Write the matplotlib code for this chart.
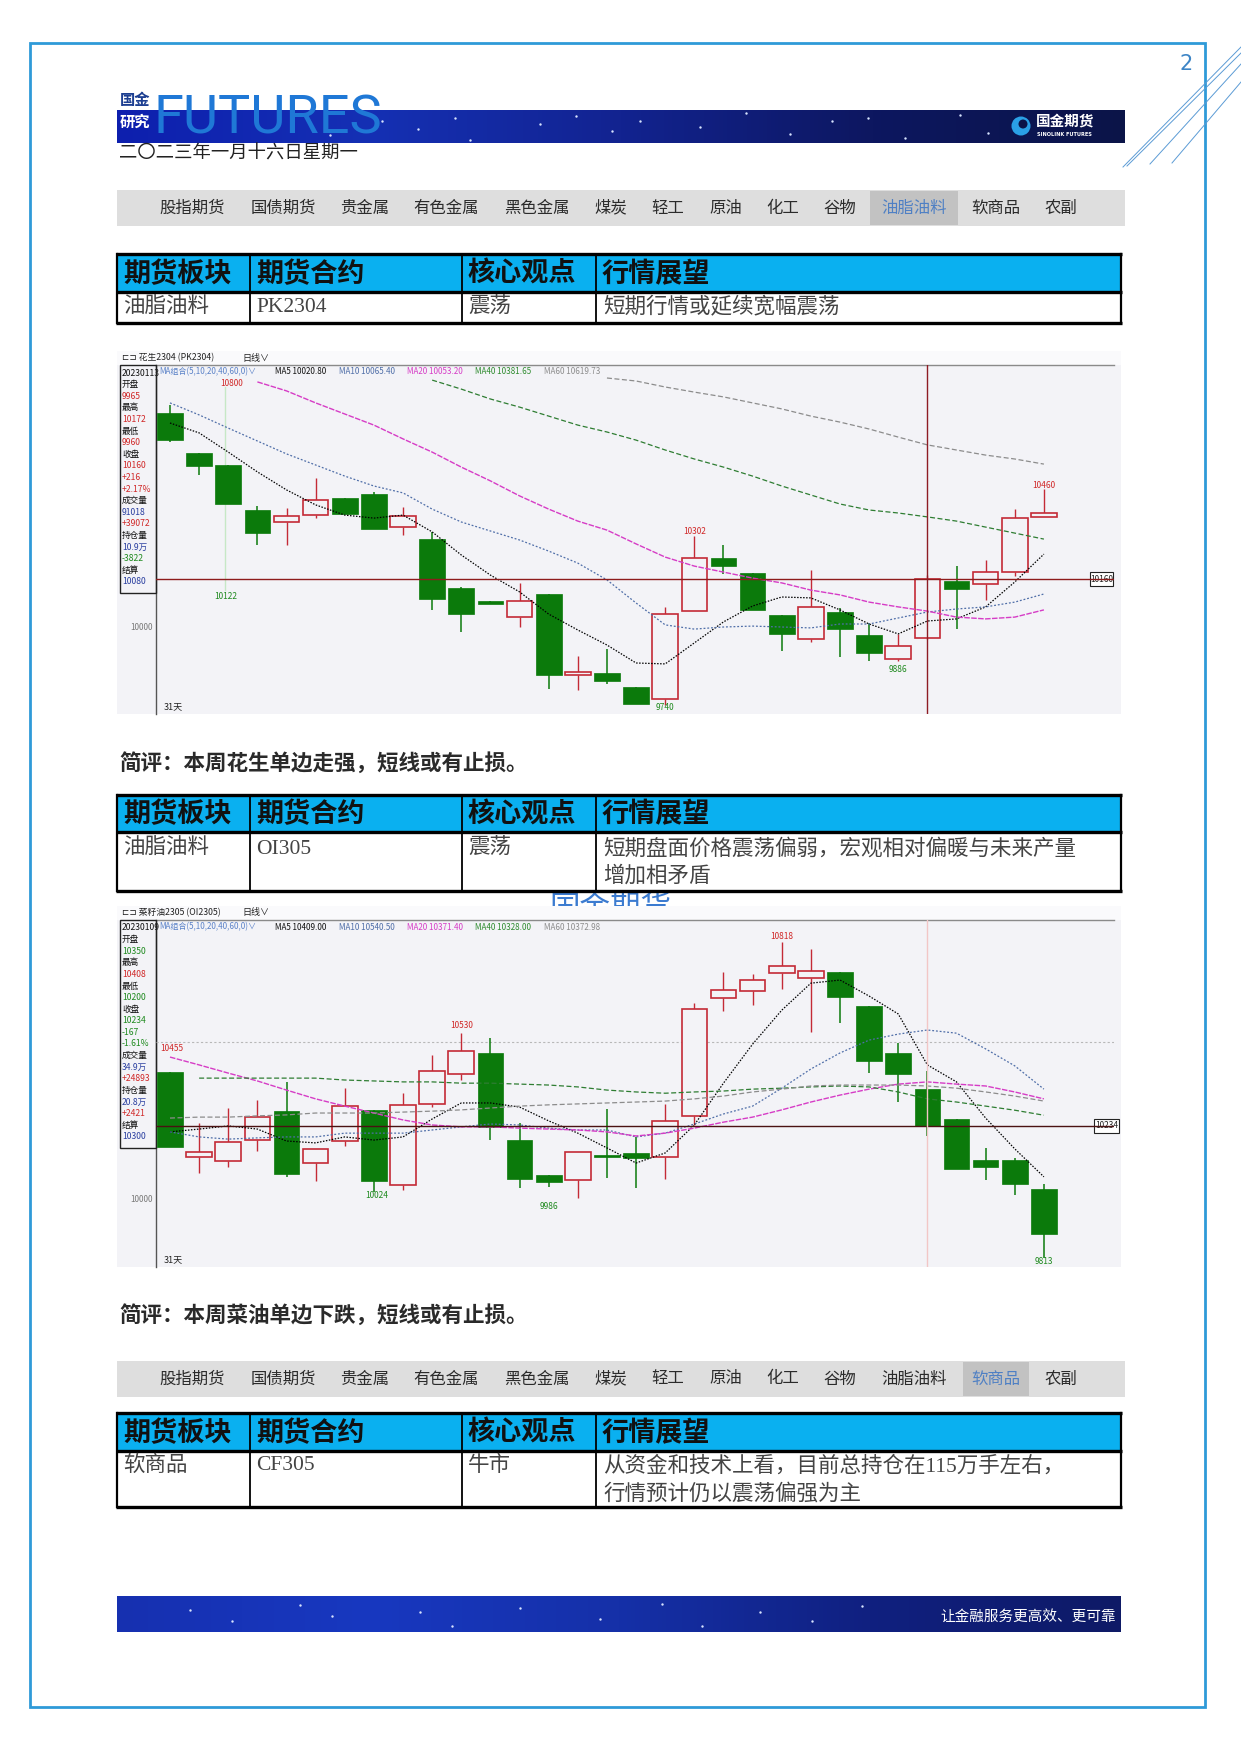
import numpy as np
import matplotlib
matplotlib.use("Agg")
import matplotlib.pyplot as plt
from matplotlib.patches import Rectangle, Circle
from matplotlib.colors import LinearSegmentedColormap
from matplotlib.transforms import Bbox, TransformedBbox

plt.rcParams['font.family'] = ['Noto Sans CJK SC', 'DejaVu Sans']

W, H = 1241, 1754

# ---------------- data: peanut PK2304 daily ----------------
pk_open = [10713, 10580, 10540, 10390, 10350, 10373, 10430, 10443, 10333, 10293,
           10130, 10087, 10033, 10110, 9840, 9847, 9800, 9760, 10053, 10230,
           10180, 10040, 9960, 10050, 9973, 9893, 9965, 10153, 10143, 10183, 10367]
pk_high = [10740, 10580, 10540, 10403, 10397, 10497, 10430, 10450, 10400, 10317,
           10133, 10087, 10148, 10110, 9903, 9927, 9800, 10067, 10302, 10273,
           10180, 10040, 10190, 10063, 10013, 9977, 10172, 10203, 10223, 10393, 10460]
pk_low = [10617, 10507, 10410, 10273, 10273, 10363, 10377, 10327, 10307, 10057,
          9983, 10077, 10000, 9793, 9790, 9810, 9745, 9740, 10053, 10177,
          10057, 9920, 9950, 9900, 9887, 9886, 9960, 9993, 10090, 10170, 10367]
pk_close = [10623, 10537, 10410, 10313, 10370, 10423, 10377, 10327, 10370, 10093,
            10043, 10077, 10087, 9840, 9850, 9820, 9745, 10043, 10230, 10203,
            10057, 9977, 10067, 9993, 9913, 9937, 10160, 10127, 10183, 10363, 10380]
pk_ma5 = [10680, 10647, 10583, 10517, 10457, 10407, 10373, 10363, 10373, 10317,
          10240, 10173, 10117, 10043, 9990, 9940, 9880, 9877, 9947, 10017,
          10070, 10100, 10097, 10057, 10010, 9977, 10020, 10027, 10067, 10150, 10243]
pk_ma10 = [10747, 10707, 10663, 10620, 10577, 10540, 10503, 10470, 10447, 10393,
           10350, 10320, 10290, 10253, 10213, 10157, 10080, 10007, 9993, 10000,
           10003, 10000, 9997, 10010, 10010, 10030, 10050, 10060, 10067, 10083, 10110]
pk_ma20 = [10817, 10787, 10747, 10710, 10673, 10627, 10583, 10533, 10487, 10437,
           10393, 10353, 10323, 10277, 10233, 10203, 10183, 10163, 10147, 10123,
           10107, 10083, 10067, 10053, 10033, 10027, 10033, 10057]        # from day 4
pk_ma40 = [10823, 10793, 10760, 10733, 10703, 10673, 10650, 10623, 10590, 10560,
           10533, 10503, 10470, 10440, 10410, 10390, 10380, 10367, 10353, 10333,
           10313, 10293]                                                  # from day 10
pk_ma60 = [10830, 10820, 10800, 10783, 10767, 10747, 10727, 10703, 10683, 10660,
           10633, 10607, 10590, 10573, 10560, 10543]                      # from day 16

# ---------------- data: rapeseed oil OI2305 daily ----------------
oi_open = [10404, 10134, 10121, 10188, 10280, 10115, 10185, 10284, 10045, 10303,
           10398, 10465, 10188, 10077, 10060, 10140, 10146, 10134, 10265, 10640,
           10662, 10719, 10704, 10722, 10614, 10465, 10350, 10255, 10124, 10124, 10032]
oi_high = [10404, 10242, 10290, 10315, 10373, 10160, 10353, 10284, 10337, 10459,
           10530, 10512, 10242, 10077, 10150, 10286, 10197, 10302, 10624, 10722,
           10716, 10818, 10796, 10722, 10614, 10497, 10408, 10255, 10162, 10130, 10048]
oi_low = [10166, 10083, 10102, 10153, 10070, 10058, 10169, 10024, 10030, 10293,
          10379, 10188, 10035, 10040, 10005, 10066, 10035, 10064, 10235, 10598,
          10618, 10668, 10531, 10560, 10401, 10309, 10200, 10095, 10061, 10013, 9813]
oi_close = [10166, 10150, 10182, 10261, 10080, 10160, 10296, 10058, 10300, 10408,
            10471, 10230, 10064, 10055, 10150, 10133, 10130, 10248, 10604, 10665,
            10697, 10741, 10726, 10643, 10439, 10398, 10234, 10095, 10102, 10048, 9890]
oi_ma5 = [10214, 10223, 10233, 10223, 10185, 10179, 10198, 10188, 10198, 10255,
          10306, 10306, 10293, 10249, 10210, 10163, 10115, 10147, 10236, 10369,
          10493, 10601, 10687, 10697, 10646, 10589, 10427, 10373, 10258, 10160, 10071]
oi_ma10 = [10214, 10198, 10191, 10195, 10198, 10198, 10210, 10210, 10210, 10220,
           10230, 10239, 10236, 10226, 10220, 10220, 10198, 10210, 10239, 10271,
           10296, 10353, 10414, 10465, 10506, 10525, 10538, 10528, 10478, 10424, 10350]
oi_ma20 = [10452, 10427, 10401, 10376, 10347, 10319, 10296, 10274, 10252, 10236,
           10230, 10230, 10226, 10223, 10220, 10214, 10201, 10210, 10226, 10245,
           10261, 10284, 10309, 10331, 10350, 10366, 10373, 10366, 10360, 10341, 10319]
oi_ma40 = [10385, 10385, 10385, 10385, 10385, 10379, 10376, 10373, 10373, 10369,
           10369, 10366, 10363, 10357, 10347, 10341, 10337, 10341, 10344, 10350,
           10353, 10357, 10360, 10357, 10341, 10319, 10309, 10296, 10283, 10267]  # from day 2
oi_ma60 = [10258, 10261, 10261, 10265, 10268, 10274, 10274, 10274, 10277, 10280,
           10284, 10290, 10296, 10300, 10303, 10306, 10309, 10312, 10319, 10328,
           10341, 10350, 10360, 10363, 10363, 10363, 10360, 10353, 10341, 10328, 10312]

pk_info = [("20230113", "k"), ("开盘", "k"), ("9965", "r"), ("最高", "k"), ("10172", "r"),
           ("最低", "k"), ("9960", "r"), ("收盘", "k"), ("10160", "r"), ("+216", "r"),
           ("+2.17%", "r"), ("成交量", "k"), ("91018", "b"), ("+39072", "r"), ("持仓量", "k"),
           ("10.9万", "b"), ("-3822", "g"), ("结算", "k"), ("10080", "b")]
oi_info = [("20230109", "k"), ("开盘", "k"), ("10350", "g"), ("最高", "k"), ("10408", "r"),
           ("最低", "k"), ("10200", "g"), ("收盘", "k"), ("10234", "g"), ("-167", "g"),
           ("-1.61%", "g"), ("成交量", "k"), ("34.9万", "b"), ("+24893", "r"), ("持仓量", "k"),
           ("20.8万", "b"), ("+2421", "r"), ("结算", "k"), ("10300", "b")]

pk_legend = ["MA5 10020.80", "MA10 10065.40", "MA20 10053.20", "MA40 10381.65", "MA60 10619.73"]
oi_legend = ["MA5 10409.00", "MA10 10540.50", "MA20 10371.40", "MA40 10328.00", "MA60 10372.98"]

# (day index, price position, text, colour)
pk_marks = [(2.1, 10813, "10800", "r"), (1.9, 10103, "10122", "g"), (18.0, 10317, "10302", "r"),
            (17.0, 9733, "9740", "g"), (25.0, 9860, "9886", "g"), (30.0, 10473, "10460", "r")]
oi_marks = [(10.0, 10551, "10530", "r"), (7.1, 10013, "10024", "g"), (13.0, 9978, "9986", "g"),
            (21.0, 10837, "10818", "r"), (30.0, 9803, "9813", "g")]

nav_items = ["股指期货", "国债期货", "贵金属", "有色金属", "黑色金属", "煤炭", "轻工",
             "原油", "化工", "谷物", "油脂油料", "软商品", "农副"]

table_head = ["期货板块", "期货合约", "核心观点", "行情展望"]
table1_row = ["油脂油料", "PK2304", "震荡", ["短期行情或延续宽幅震荡"]]
table2_row = ["油脂油料", "OI305", "震荡", ["短期盘面价格震荡偏弱，宏观相对偏暖与未来产量", "增加相矛盾"]]
table3_row = ["软商品", "CF305", "牛市", ["从资金和技术上看，目前总持仓在115万手左右，", "行情预计仍以震荡偏强为主"]]

# ---------------- styling ----------------
GREEN = "#0b7a0b"
RED = "#c42a36"
CBG = "#f3f3f7"
TXT = {"k": "#111111", "r": "#d02828", "g": "#1f8a1f", "b": "#2a3fa0"}
MA_STYLE = [("#000000", (0, (1.2, 1.2)), 0.9),
            ("#4f6ea8", (0, (1.5, 1.5)), 0.9),
            ("#d63cc6", (0, (4, 1)), 1.0),
            ("#2e7d32", (0, (4, 2)), 0.9),
            ("#8c8c8c", (0, (4, 2)), 0.9)]
MA_LEG_COL = ["#111111", "#4f6ea8", "#d63cc6", "#2e8b2e", "#8c8c8c"]

fig = plt.figure(figsize=(12.41, 17.54), dpi=100)
pg = fig.add_axes([0, 0, 1, 1])
pg.set_xlim(0, W)
pg.set_ylim(H, 0)
pg.axis("off")


def gradient(x0, x1, y0, y1, colors):
    cmap = LinearSegmentedColormap.from_list("g", colors)
    pg.imshow(np.linspace(0, 1, 256)[None, :], cmap=cmap, aspect="auto",
              extent=(x0, x1, y1, y0), zorder=1)


# page frame and corner lines
pg.add_patch(Rectangle((30, 43), 1175, 1664, fill=False, ec="#2f9ad8", lw=2.0, zorder=5))
for (xa, ya, xb, yb) in [(1123, 167, 1241, 47), (1127, 166, 1241, 53),
                         (1150, 164, 1241, 64), (1172, 163, 1241, 82)]:
    pg.plot([xa, xb], [ya, yb], color="#5b9bd5", lw=0.7, zorder=5)
pg.text(1186, 64, "2", fontsize=15, color="#3d85c6", ha="center", va="center", family="DejaVu Sans")

# header banner
gradient(117, 1125, 110, 143, ["#0d1fae", "#1530b4", "#122390", "#0d1760", "#0b1448"])
stars_h = [(330, 135), (382, 121), (418, 129), (455, 118), (470, 140), (540, 124), (576, 116),
           (612, 131), (640, 121), (700, 127), (746, 113), (790, 134), (832, 121), (868, 118),
           (905, 138), (960, 115), (988, 133)]
pg.scatter([s[0] for s in stars_h], [s[1] for s in stars_h], s=3, c="#d8e4ff", zorder=2, lw=0)
pg.text(154, 133, "FUTURES", fontsize=39, color="#1f78d6", family="Roboto",
        ha="left", va="baseline", zorder=3)
pg.text(120, 100, "国金", fontsize=11, weight="bold", color="#1d3f91", ha="left", va="center", zorder=3)
pg.text(120, 122, "研究", fontsize=11, weight="bold", color="white", ha="left", va="center", zorder=3)
pg.add_patch(Circle((1021, 126), 9.5, fc="#2aa0e6", ec="none", zorder=3))
pg.add_patch(Circle((1023, 124), 4.5, fc="#0b1448", ec="none", zorder=4))
pg.text(1036, 121, "国金期货", fontsize=10.5, weight="bold", color="white", ha="left", va="center", zorder=3)
pg.text(1037, 135, "SINOLINK FUTURES", fontsize=3.6, weight="bold", color="white",
        ha="left", va="center", zorder=3, family="DejaVu Sans")
pg.text(119, 154, "二〇二三年一月十六日星期一", fontsize=13.2, color="#222222", ha="left", va="center")


def nav_bar(y0, y1, active):
    pg.add_patch(Rectangle((117, y0), 1008, y1 - y0, fc="#dedede", ec="none", zorder=1))
    xs = [192, 283, 365, 446, 537, 611, 668, 726, 783, 840, 914, 996, 1061]
    widths = [0, 0, 0, 0, 0, 0, 0, 0, 0, 0, 88, 66, 0]
    for k, (name, x) in enumerate(zip(nav_items, xs)):
        col = "#2b2b2b"
        if k == active:
            pg.add_patch(Rectangle((x - widths[k] / 2, y0 + 1), widths[k], y1 - y0 - 2,
                                   fc="#c2c2c2", ec="none", zorder=2))
            col = "#4f80c4"
        pg.text(x, (y0 + y1) / 2, name, fontsize=11.8, color=col, ha="center", va="center",
                weight="light", zorder=3)


def table(top, mid, bot, row, line_y):
    cols = [117, 250, 462, 596, 1121]
    pg.add_patch(Rectangle((117, top), 1004, mid - top, fc="#0ab0f0", ec="none", zorder=1))
    pg.add_patch(Rectangle((117, mid), 1004, bot - mid, fc="white", ec="none", zorder=1))
    for y in (top, mid, bot):
        pg.plot([116, 1122], [y, y], color="black", lw=2.4, zorder=4, solid_capstyle="butt")
    for x in cols:
        pg.plot([x, x], [top, bot], color="black", lw=1.6 if x in (117, 1121) else 1.3, zorder=4)
    for k, h in enumerate(table_head):
        pg.text(cols[k] + 6, (top + mid) / 2 + 1, h, fontsize=19.5, weight="bold",
                color="#111111", ha="left", va="center", zorder=5)
    fam = ["Liberation Serif", "Noto Sans CJK SC"]
    for k in range(3):
        pg.text(cols[k] + 6, line_y[0], row[k], fontsize=15.5, color="#444444", family=fam,
                ha="left", va="center", zorder=5)
    for j, ln in enumerate(row[3]):
        pg.text(cols[3] + 7, line_y[j], ln, fontsize=15.5, color="#444444", family=fam,
                ha="left", va="center", zorder=5)


nav_bar(190, 226, 10)
table(254, 292, 323, table1_row, [308])


def chart(box, title, info, legend, o, h, l, c, mas, ma_start, ref_px, ref_price, ppu,
          cross_col, vcross_col, marks, cross_box):
    x0, y0, x1, y1 = box          # whole screenshot
    top = y0 + 14                  # plot frame top
    left, right = 156, 1114
    pg.add_patch(Rectangle((x0, y0), x1 - x0, y1 - y0, fc=CBG, ec="none", zorder=6))
    pg.add_patch(Rectangle((x0, y0), x1 - x0, 14, fc="#fafafc", ec="none", zorder=6))
    pg.plot([left, right], [top, top], color="#8a8a8a", lw=1, zorder=7)
    pg.plot([left, left], [top, y1], color="#555555", lw=1, zorder=7)
    pg.text(x0 + 5, y0 + 7, "⊏⊐ " + title, fontsize=6.3, color="#222222", ha="left", va="center",
            zorder=8, family=["Noto Sans CJK SC", "DejaVu Sans"])
    pg.text(x0 + 125, y0 + 7, "日线∨", fontsize=6.5, color="#222222", ha="left", va="center",
            zorder=8, family=["Noto Sans CJK SC", "DejaVu Sans"])
    # info panel
    for k, (s, cc) in enumerate(info):
        pg.text(x0 + 5, top + 8 + k * 11.6, s, fontsize=6.2, color=TXT[cc], ha="left",
                va="center", zorder=8)
    pg.add_patch(Rectangle((x0 + 3, top), left - x0 - 3, 19 * 11.6 + 8, fill=False,
                           ec="#222222", lw=1, zorder=8))
    pg.text(left + 3, top + 7, "MA组合(5,10,20,40,60,0)∨", fontsize=5.8, color="#5b82c8",
            ha="left", va="center", zorder=8)
    for k, (s, x) in enumerate(zip(legend, [275, 339, 407, 475, 544])):
        pg.text(x, top + 7, s, fontsize=5.8, color=MA_LEG_COL[k], ha="left", va="center", zorder=8)
    pg.text(left + 8, y1 - 7, "31天", fontsize=6.5, color="#222222", ha="left", va="center", zorder=8)

    ax = fig.add_axes([left / W, 1 - y1 / H, (right - left) / W, (y1 - top) / H])
    ax.set_xlim((left - 170) / 29.13, (right - 170) / 29.13)
    ax.set_ylim(ref_price - (y1 - ref_px) / ppu, ref_price + (ref_px - top) / ppu)
    ax.axis("off")
    ax.patch.set_alpha(0)

    bw = 0.88
    for i, (oo, hh, ll, cc) in enumerate(zip(o, h, l, c)):
        if cc >= oo:
            ax.vlines(i, cc, hh, color=RED, lw=1.0, zorder=2)
            ax.vlines(i, ll, oo, color=RED, lw=1.0, zorder=2)
            ax.add_patch(Rectangle((i - bw / 2, oo), bw, max(cc - oo, 4), fc=CBG, ec=RED,
                                   lw=1.2, zorder=2))
        else:
            ax.vlines(i, ll, hh, color=GREEN, lw=1.1, zorder=2)
            ax.add_patch(Rectangle((i - bw / 2, cc), bw, max(oo - cc, 4), fc=GREEN, ec=GREEN,
                                   lw=0.5, zorder=2))
    for (col, ls, lw), m, s0 in zip(MA_STYLE, mas, ma_start):
        ax.plot(np.arange(s0, s0 + len(m)), m, color=col, ls=ls, lw=lw, zorder=3)
    ax.axhline(ref_price, color=cross_col, lw=1.0, zorder=4)
    ax.axvline(26, color=vcross_col, lw=1.0, zorder=4)
    ax.text(-0.6, 10000, "10000", fontsize=5.8, color="#777777", ha="right", va="center",
            clip_on=False)
    for (xi, yp, s, cc) in marks:
        ax.text(xi, yp, s, fontsize=6, color=TXT[cc], ha="center", va="center", clip_on=False,
                zorder=5)
    bx0, bx1 = cross_box
    pg.add_patch(Rectangle((bx0, ref_px - 7), bx1 - bx0, 14, fc="white", ec="#222222", lw=0.8, zorder=8))
    pg.text((bx0 + bx1) / 2, ref_px, f"{ref_price}", fontsize=6, color="#222222", ha="center",
            va="center", zorder=9)
    return ax


pk_ax = chart((117, 351, 1121, 714), "花生2304 (PK2304)", pk_info, pk_legend,
              pk_open, pk_high, pk_low, pk_close,
              [pk_ma5, pk_ma10, pk_ma20, pk_ma40, pk_ma60], [0, 0, 3, 9, 15],
              579, 10160, 0.30, "#8e1c1c", "#8e1c24", pk_marks, (1090, 1113))
pk_ax.plot([1.9, 1.9], [10122, 10800], color="#c6e8c6", lw=1, zorder=1)

pg.text(119, 763, "简评：本周花生单边走强，短线或有止损。", fontsize=15.5, weight="bold",
        color="#2a2a2a", ha="left", va="center")
table(795, 832, 891, table2_row, [849, 876])

# blue heading partly hidden under the second screenshot: only its top shows
hidden = pg.text(610, 908, "国金期货", fontsize=22, color="#3b7bd0", ha="center", va="center",
                 zorder=2, clip_on=True)
hidden.set_clip_box(TransformedBbox(Bbox([[540, 893], [680, 906]]), pg.transData))

oi_ax = chart((117, 906, 1121, 1267), "菜籽油2305 (OI2305)", oi_info, oi_legend,
              oi_open, oi_high, oi_low, oi_close,
              [oi_ma5, oi_ma10, oi_ma20, oi_ma40, oi_ma60], [0, 0, 0, 1, 0],
              1125.6, 10234, 0.3144, "#4a1212", "#f2c6c6", oi_marks, (1094, 1119))
oi_ax.axhline(10500, color="#b8b8b8", lw=0.8, ls=(0, (2, 2)), zorder=1)
oi_ax.text(-0.35, 10478, "10455", fontsize=6, color=TXT["r"], ha="left", va="center")

pg.text(119, 1315, "简评：本周菜油单边下跌，短线或有止损。", fontsize=15.5, weight="bold",
        color="#2a2a2a", ha="left", va="center")
nav_bar(1361, 1397, 11)
table(1413, 1451, 1507, table3_row, [1466, 1494])

# footer banner
gradient(117, 1121, 1596, 1632, ["#1630b0", "#1838c0", "#1530a8", "#102080", "#0e1a66"])
stars_f = [(190, 1610), (232, 1621), (300, 1605), (332, 1616), (420, 1612), (452, 1626),
           (520, 1608), (600, 1619), (662, 1604), (702, 1626), (760, 1612), (812, 1621), (862, 1606)]
pg.scatter([s[0] for s in stars_f], [s[1] for s in stars_f], s=3, c="#d8e4ff", zorder=2, lw=0)
pg.text(1116, 1617, "让金融服务更高效、更可靠", fontsize=10.5, color="white", ha="right",
        va="center", zorder=3)

fig.savefig("out.png", dpi=100, facecolor="white")
